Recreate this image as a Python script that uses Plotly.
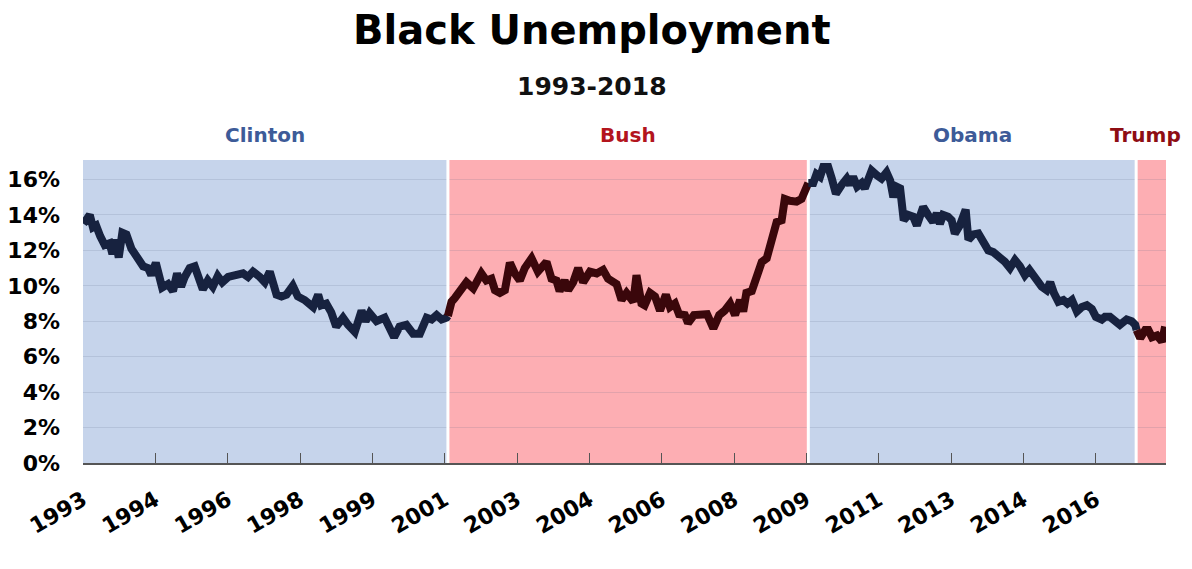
import plotly.graph_objects as go

# ---------------- data ----------------
clinton_x = [1993.01, 1993.15, 1993.22, 1993.29, 1993.38, 1993.48, 1993.59, 1993.65, 1993.72, 1993.79,
             1993.87, 1993.96, 1994.07, 1994.21, 1994.33, 1994.44, 1994.51, 1994.61, 1994.69, 1994.75,
             1994.88, 1994.99, 1995.08, 1995.17, 1995.25, 1995.36, 1995.47, 1995.54, 1995.65, 1995.76,
             1995.87, 1995.98, 1996.08, 1996.21, 1996.35, 1996.54, 1996.65, 1996.76, 1996.91, 1997.02,
             1997.13, 1997.28, 1997.39, 1997.50, 1997.64, 1997.75, 1997.90, 1998.09, 1998.20, 1998.27,
             1998.38, 1998.49, 1998.60, 1998.75, 1998.86, 1999.01, 1999.16, 1999.25, 1999.34, 1999.49,
             1999.67, 1999.78, 1999.88, 2000.00, 2000.15, 2000.30, 2000.45, 2000.60, 2000.71, 2000.82,
             2000.93, 2001.04]
clinton_y = [13.5, 14.0, 13.3, 13.4, 12.8, 12.3, 12.4, 11.8, 12.6, 11.6,
             13.0, 12.9, 12.1, 11.6, 11.1, 11.0, 10.6, 11.3, 10.5, 9.9,
             10.1, 9.7, 10.7, 9.95, 10.5, 11.0, 11.1, 10.7, 9.8, 10.3,
             9.95, 10.55, 10.2, 10.5, 10.6, 10.7, 10.5, 10.8, 10.5, 10.2,
             10.8, 9.5, 9.4, 9.5, 10.0, 9.4, 9.2, 8.8, 9.5, 8.9,
             9.0, 8.5, 7.7, 8.2, 7.8, 7.4, 8.6, 8.0, 8.45, 8.0,
             8.2, 7.6, 7.1, 7.7, 7.8, 7.3, 7.3, 8.2, 8.1, 8.35,
             8.1, 8.2]

bush_x = [2001.07, 2001.15, 2001.22, 2001.33, 2001.48, 2001.63, 2001.81, 2001.92, 2002.03, 2002.11,
          2002.22, 2002.33, 2002.44, 2002.55, 2002.66, 2002.77, 2002.92, 2003.06, 2003.25, 2003.36,
          2003.47, 2003.54, 2003.65, 2003.73, 2003.84, 2003.95, 2004.06, 2004.21, 2004.36, 2004.50,
          2004.61, 2004.80, 2004.91, 2005.02, 2005.17, 2005.24, 2005.35, 2005.42, 2005.54, 2005.65,
          2005.76, 2005.89, 2005.98, 2006.09, 2006.18, 2006.31, 2006.38, 2006.51, 2006.68, 2006.80,
          2006.94, 2007.07, 2007.19, 2007.31, 2007.42, 2007.53, 2007.60, 2007.67, 2007.79, 2007.90,
          2008.01, 2008.12, 2008.23, 2008.34, 2008.45, 2008.52, 2008.63, 2008.78, 2008.89, 2009.00]
bush_y = [8.3, 9.1, 9.3, 9.75, 10.2, 9.85, 10.7, 10.3, 10.4, 9.75,
          9.6, 9.75, 11.3, 10.7, 10.3, 11.0, 11.55, 10.8, 11.35, 10.4,
          10.3, 9.7, 10.3, 9.75, 10.2, 11.0, 10.2, 10.8, 10.7, 10.9,
          10.4, 10.1, 9.2, 9.6, 9.1, 10.6, 9.0, 8.9, 9.6, 9.4,
          8.6, 9.5, 8.8, 9.0, 8.4, 8.35, 7.9, 8.35, 8.35, 8.4,
          7.6, 8.35, 8.6, 9.0, 8.35, 9.2, 8.55, 9.6, 9.7, 10.7,
          11.35, 11.55, 12.5, 13.6, 13.7, 14.9, 14.8, 14.75, 14.9, 15.8]

obama_x = [2009.04, 2009.15, 2009.22, 2009.30, 2009.37, 2009.48, 2009.56, 2009.65, 2009.78, 2009.89,
           2009.96, 2010.03, 2010.12, 2010.22, 2010.29, 2010.44, 2010.55, 2010.66, 2010.77, 2010.85,
           2010.92, 2010.99, 2011.07, 2011.15, 2011.25, 2011.36, 2011.44, 2011.58, 2011.69, 2011.80,
           2011.88, 2011.95, 2012.02, 2012.13, 2012.21, 2012.28, 2012.39, 2012.52, 2012.58, 2012.69,
           2012.80, 2012.91, 2013.02, 2013.13, 2013.24, 2013.39, 2013.50, 2013.61, 2013.72, 2013.83,
           2013.93, 2014.05, 2014.20, 2014.31, 2014.39, 2014.47, 2014.57, 2014.68, 2014.77, 2014.87,
           2014.98, 2015.09, 2015.20, 2015.31, 2015.40, 2015.53, 2015.60, 2015.71, 2015.82, 2015.93,
           2016.08, 2016.19, 2016.27]
obama_y = [15.8, 15.8, 16.3, 16.15, 16.7, 16.7, 16.05, 15.2, 15.7, 16.05,
           15.7, 16.15, 15.6, 15.8, 15.5, 16.5, 16.25, 16.05, 16.4, 15.95,
           15.0, 15.6, 15.5, 13.7, 14.0, 13.9, 13.4, 14.45, 14.0, 13.6,
           14.1, 13.5, 14.0, 13.9, 13.7, 12.95, 13.4, 14.3, 12.6, 12.9,
           12.95, 12.5, 12.0, 11.9, 11.7, 11.35, 11.0, 11.45, 11.1, 10.6,
           10.9, 10.4, 9.95, 9.75, 10.2, 9.6, 9.1, 9.2, 9.0, 9.2,
           8.55, 8.8, 8.9, 8.7, 8.25, 8.1, 8.25, 8.25, 8.0, 7.8,
           8.1, 8.0, 7.8]

trump_x = [2016.30, 2016.38, 2016.49, 2016.56, 2016.64, 2016.75, 2016.86, 2016.93]
trump_y = [7.5, 7.05, 7.5, 7.5, 7.1, 7.2, 6.85, 7.7]

eras = ["Clinton", "Bush", "Obama", "Trump"]
era_bounds = [1993.0, 2001.07, 2009.04, 2016.29, 2016.95]

tick_vals = [1993.0, 1994.6, 1996.2, 1997.8, 1999.4, 2001.0, 2002.6, 2004.2,
             2005.8, 2007.4, 2009.0, 2010.6, 2012.2, 2013.8, 2015.4]
tick_text = ["1993", "1994", "1996", "1998", "1999", "2001", "2003", "2004",
             "2006", "2008", "2009", "2011", "2013", "2014", "2016"]
y_ticks = [0, 2, 4, 6, 8, 10, 12, 14, 16]

title_text = "Black Unemployment"
subtitle_text = "1993-2018"

# ---------------- styles ----------------
BLUE_BAND = "#c6d4eb"
RED_BAND = "#fdaeb3"
NAVY = "#17223f"
MAROON = "#3a070b"
FONT = "DejaVu Sans"

band_colors = [BLUE_BAND, RED_BAND, BLUE_BAND, RED_BAND]
line_colors = [NAVY, MAROON, NAVY, MAROON]
label_colors = ["#3d5b98", "#b3151d", "#3d5b98", "#8e0d13"]

series = [(clinton_x, clinton_y), (bush_x, bush_y), (obama_x, obama_y), (trump_x, trump_y)]

fig = go.Figure()

for i, (xs, ys) in enumerate(series):
    xx = list(xs)
    yy = list(ys)
    if i + 1 < len(series):
        xx.append(series[i + 1][0][0])
        yy.append(series[i + 1][1][0])
    fig.add_trace(go.Scatter(
        x=xx, y=yy, mode="lines",
        line=dict(color=line_colors[i], width=8),
        hoverinfo="skip", showlegend=False,
    ))

shapes = []
for i in range(len(eras)):
    shapes.append(dict(
        type="rect", xref="x", yref="y",
        x0=era_bounds[i], x1=era_bounds[i + 1], y0=0, y1=17.1,
        fillcolor=band_colors[i], line=dict(width=0), layer="below",
    ))
for b in era_bounds[1:-1]:
    shapes.append(dict(
        type="line", xref="x", yref="y",
        x0=b, x1=b, y0=0, y1=17.1,
        line=dict(color="white", width=3), layer="between",
    ))

annotations = []
for i, name in enumerate(eras):
    cx = (era_bounds[i] + era_bounds[i + 1]) / 2
    if name == "Trump":
        cx = 2016.49
    annotations.append(dict(
        x=cx, y=1.082, xref="x", yref="paper", text=name, showarrow=False,
        font=dict(family=FONT, size=20, color=label_colors[i], weight=700),
        xanchor="center", yanchor="middle",
    ))

annotations.append(dict(
    x=0.47, y=1.43, xref="paper", yref="paper", text=title_text, showarrow=False,
    font=dict(family=FONT, size=40, color="black", weight=700),
    xanchor="center", yanchor="middle",
))
annotations.append(dict(
    x=0.47, y=1.241, xref="paper", yref="paper", text=subtitle_text, showarrow=False,
    font=dict(family=FONT, size=25, color="#111", weight=700),
    xanchor="center", yanchor="middle",
))

fig.update_layout(
    width=1192, height=569,
    margin=dict(l=75, r=34, t=152, b=114),
    paper_bgcolor="white", plot_bgcolor="white",
    shapes=shapes,
    annotations=annotations,
    xaxis=dict(
        range=[1993.0, 2016.95],
        tickmode="array", tickvals=tick_vals, ticktext=tick_text,
        tickangle=-30, ticks="inside", ticklen=10, tickwidth=1, tickcolor="#555",
        showline=True, linecolor="#555", linewidth=1.5,
        showgrid=False, zeroline=False, automargin=False,
        tickfont=dict(family=FONT, size=22, color="black", weight=700),
        ticklabelstandoff=14,
    ),
    yaxis=dict(
        range=[0, 17.1],
        tickmode="array", tickvals=y_ticks, ticktext=[f"{v}%" for v in y_ticks],
        showgrid=True, gridcolor="rgba(90,100,130,0.16)", gridwidth=1,
        zeroline=False, showline=False, ticks="", automargin=False,
        tickfont=dict(family=FONT, size=22, color="black", weight=700),
        ticklabelstandoff=22,
    ),
    hovermode=False,
)

fig.write_html("out.html", config={"displayModeBar": False})
